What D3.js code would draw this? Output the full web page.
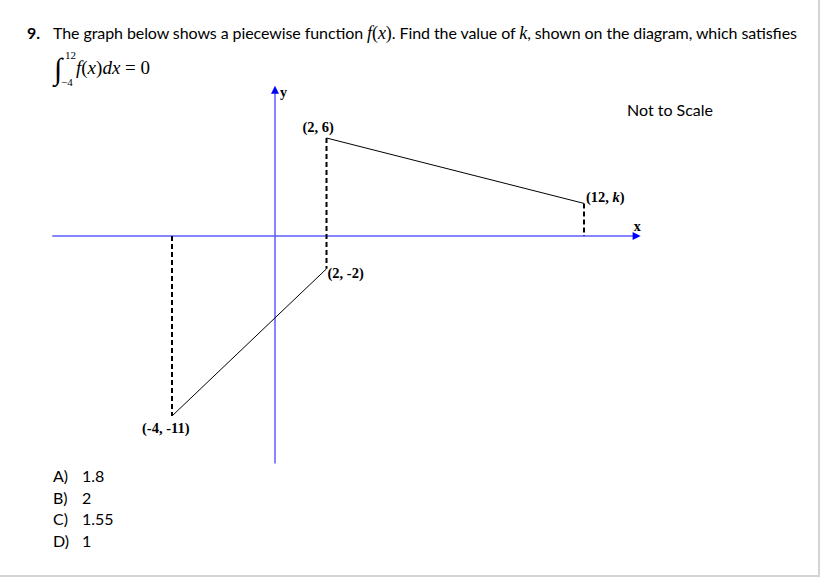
<!DOCTYPE html>
<html><head><meta charset="utf-8">
<script src="https://cdn.jsdelivr.net/npm/d3@7"></script>
<style>
html,body{margin:0;padding:0;background:#fff;}
svg{display:block;}
</style></head>
<body>
<script>
// ---- data ----
const kLabelValue = 2.0;            // drawn height of (12, k) (not to scale)
const solidSegments = [
  [[-4, -11], [2, -2]],
  [[2, 6], [12, kLabelValue]]
];
const dashedSegments = [
  [[-4, 0], [-4, -11]],
  [[2, 6], [2, -2]],
  [[12, kLabelValue], [12, 0]]
];
const pointLabels = [
  {x: -4, y: -11, parts: [["(-4, -11)", false]], dx: -30, dy: 12},
  {x: 2, y: -2, parts: [["(2, -2)", false]], dx: 1, dy: 4},
  {x: 2, y: 6, parts: [["(2, 6)", false]], dx: -24, dy: -11},
  {x: 12, y: kLabelValue, parts: [["(12, ", false], ["k", true], [")", false]], dx: 2, dy: -6}
];
const choiceLetters = ["A)", "B)", "C)", "D)"];
const choiceValues = ["1.8", "2", "1.55", "1"];
const xDomainAxis = [-8.65, 14.2];
const yDomainAxis = [-13.9, 9.2];

// ---- drawing ----
const W = 820, H = 577;
const SERIF = '"Liberation Serif"';
const SANS = '"Lato"';
const svg = d3.select("body").append("svg").attr("width", W).attr("height", H);

const x = d3.scaleLinear().domain([-4, 12]).range([172, 584]);
const y = d3.scaleLinear().domain([-11, 6]).range([416, 138]);

function txt(family) {
  return svg.append("text").style("font-family", family).attr("fill", "#000");
}

// title
txt(SANS).attr("x", 27).attr("y", 39).attr("font-size", 16).attr("font-weight", "bold").text("9.");
const t2 = txt(SANS).attr("x", 53).attr("y", 39).attr("font-size", 16);
t2.append("tspan").text("The graph below shows a piecewise function ");
t2.append("tspan").style("font-family", SERIF).attr("font-style", "italic").attr("font-size", 18).text("f");
t2.append("tspan").style("font-family", SERIF).attr("font-size", 18).text("(");
t2.append("tspan").style("font-family", SERIF).attr("font-style", "italic").attr("font-size", 18).text("x");
t2.append("tspan").style("font-family", SERIF).attr("font-size", 18).text(")");
t2.append("tspan").text(". Find the value of ");
t2.append("tspan").style("font-family", SERIF).attr("font-style", "italic").attr("font-size", 18).text("k");
t2.append("tspan").text(", shown on the diagram, which satisfies");
const tw = t2.node().getComputedTextLength();
if (tw > 0) t2.attr("textLength", 744).attr("lengthAdjust", "spacing");

// integral
txt(SERIF).attr("x", 54).attr("y", 79).attr("font-size", 30).text("∫");
txt(SERIF).attr("x", 65).attr("y", 59).attr("font-size", 11).text("12");
txt(SERIF).attr("x", 61).attr("y", 86).attr("font-size", 11).text("−4");
const ie = txt(SERIF).attr("x", 76).attr("y", 74).attr("font-size", 19);
ie.append("tspan").attr("font-style", "italic").text("f");
ie.append("tspan").text("(");
ie.append("tspan").attr("font-style", "italic").text("x");
ie.append("tspan").text(")");
ie.append("tspan").attr("font-style", "italic").text("dx");
ie.append("tspan").text(" = 0");

// not to scale
txt(SANS).attr("x", 627).attr("y", 116).attr("font-size", 16).text("Not to Scale");

// axes
const axisColor = "#5c5cff";
const arrowColor = "#0000ff";
svg.append("line").attr("x1", x(xDomainAxis[0])).attr("x2", x(xDomainAxis[1]) - 5)
  .attr("y1", y(0)).attr("y2", y(0)).attr("stroke", axisColor).attr("stroke-width", 1.5);
svg.append("line").attr("x1", x(0)).attr("x2", x(0))
  .attr("y1", y(yDomainAxis[0])).attr("y2", y(yDomainAxis[1]) + 5)
  .attr("stroke", axisColor).attr("stroke-width", 1.5);
const xt = x(xDomainAxis[1]), yt = y(yDomainAxis[1]);
svg.append("path").attr("d", `M${xt},${y(0)} L${xt-8},${y(0)-4} L${xt-8},${y(0)+4} Z`).attr("fill", arrowColor);
svg.append("path").attr("d", `M${x(0)},${yt} L${x(0)-4},${yt+8} L${x(0)+4},${yt+8} Z`).attr("fill", arrowColor);
txt(SERIF).attr("x", xt - 7).attr("y", y(0) - 5).attr("font-weight", "bold").attr("font-size", 14).text("x");
txt(SERIF).attr("x", x(0) + 5).attr("y", yt + 11).attr("font-weight", "bold").attr("font-size", 14).text("y");

// dashed verticals
svg.selectAll("line.dash").data(dashedSegments).join("line").attr("class", "dash")
  .attr("x1", d => x(d[0][0])).attr("y1", d => y(d[0][1]))
  .attr("x2", d => x(d[1][0])).attr("y2", d => y(d[1][1]))
  .attr("stroke", "#000").attr("stroke-width", 2).attr("stroke-dasharray", "5,3");

// solid pieces
const line = d3.line().x(d => x(d[0])).y(d => y(d[1]));
svg.selectAll("path.seg").data(solidSegments).join("path").attr("class", "seg")
  .attr("d", line).attr("fill", "none").attr("stroke", "#000").attr("stroke-width", 1);

// point labels
pointLabels.forEach(p => {
  const tx = txt(SERIF).attr("x", x(p.x) + p.dx).attr("y", y(p.y) + p.dy + 5)
    .attr("font-weight", "bold").attr("font-size", 14.5);
  p.parts.forEach(([s, it]) => tx.append("tspan").attr("font-style", it ? "italic" : "normal").text(s));
});

// choices
choiceLetters.forEach((c, i) => {
  const yy = 482 + i * 21.7;
  txt(SANS).attr("x", 53).attr("y", yy).attr("font-size", 16).text(c);
  txt(SANS).attr("x", 82).attr("y", yy).attr("font-size", 16).text(choiceValues[i]);
});

// page border (right & bottom)
svg.append("rect").attr("x", 818).attr("y", 0).attr("width", 2).attr("height", H).attr("fill", "#d4d4d4");
svg.append("rect").attr("x", 0).attr("y", 575).attr("width", W).attr("height", 2).attr("fill", "#d4d4d4");
</script>
</body></html>
